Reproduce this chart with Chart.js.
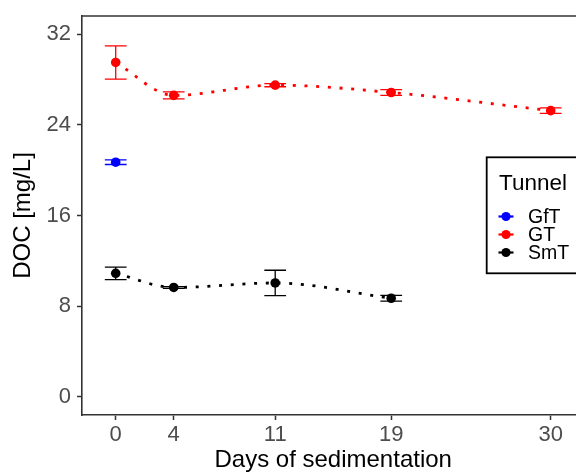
<!DOCTYPE html>
<html>
<head>
<meta charset="utf-8">
<script src="https://cdn.jsdelivr.net/npm/chart.js@4/dist/chart.umd.min.js"></script>
<style>
html,body{margin:0;padding:0;background:#fff;overflow:hidden;}
#wrap{width:610px;height:475px;}
</style>
</head>
<body>
<div id="wrap"><canvas id="c" width="610" height="475"></canvas></div>
<script>
// ---- data ----
const seriesNames = ['GfT', 'GT', 'SmT'];
const seriesColors = ['#0000FF', '#FF0000', '#000000'];
const gftDays = [0];
const gftDOC = [20.7];
const gftErr = [0.2];
const gtDays = [0, 4, 11, 19, 30];
const gtDOC = [29.5, 26.6, 27.5, 26.85, 25.25];
const gtErr = [1.47, 0.31, 0.14, 0.25, 0.24];
const smtDays = [0, 4, 11, 19];
const smtDOC = [10.9, 9.65, 10.05, 8.7];
const smtErr = [0.55, 0.08, 1.12, 0.26];
const xTicks = [0, 4, 11, 19, 30];
const yTicks = [0, 8, 16, 24, 32];

const FONT = "'Liberation Sans', Arial, Helvetica, sans-serif";

function mk(days, vals) { return days.map((d, i) => ({x: d, y: vals[i]})); }
const errs = [gftErr, gtErr, smtErr];

function ds(i, days, vals, showLine) {
  return {
    label: seriesNames[i],
    data: mk(days, vals),
    errors: errs[i],
    borderColor: seriesColors[i],
    backgroundColor: seriesColors[i],
    pointBackgroundColor: seriesColors[i],
    pointBorderWidth: 0,
    pointRadius: 4.8,
    pointHoverRadius: 4.8,
    showLine: showLine,
    borderWidth: 2.8,
    borderDash: [3, 8.7],
    borderCapStyle: 'butt',
    cubicInterpolationMode: 'monotone',
    fill: false
  };
}

const errorBars = {
  id: 'errorBars',
  beforeDatasetsDraw(chart) {
    const ctx = chart.ctx, xs = chart.scales.x, ys = chart.scales.y;
    chart.data.datasets.forEach(d => {
      ctx.save();
      ctx.strokeStyle = d.borderColor;
      ctx.lineWidth = 1.3;
      d.data.forEach((p, i) => {
        const e = d.errors[i];
        const x = xs.getPixelForValue(p.x);
        const x0 = xs.getPixelForValue(p.x - 0.75), x1 = xs.getPixelForValue(p.x + 0.75);
        const yt = ys.getPixelForValue(p.y + e), yb = ys.getPixelForValue(p.y - e);
        ctx.beginPath();
        ctx.moveTo(x, yt); ctx.lineTo(x, yb);
        ctx.moveTo(x0, yt); ctx.lineTo(x1, yt);
        ctx.moveTo(x0, yb); ctx.lineTo(x1, yb);
        ctx.stroke();
      });
      ctx.restore();
    });
  }
};

const frame = {
  id: 'frame',
  afterDraw(chart) {
    const ctx = chart.ctx, a = chart.chartArea;
    ctx.save();
    ctx.strokeStyle = '#333333';
    ctx.lineWidth = 1.6;
    ctx.beginPath();
    ctx.moveTo(a.left, a.top); ctx.lineTo(a.right, a.top); ctx.lineTo(a.right, a.bottom);
    ctx.stroke();
    // legend
    const lx = 486.7, ly = 157.3, lw = 110, lh = 116;
    ctx.fillStyle = '#fff';
    ctx.fillRect(lx, ly, lw, lh);
    ctx.strokeStyle = '#000';
    ctx.lineWidth = 1.8;
    ctx.strokeRect(lx, ly, lw, lh);
    ctx.fillStyle = '#000';
    ctx.textAlign = 'left';
    ctx.textBaseline = 'alphabetic';
    ctx.font = '22.5px ' + FONT;
    ctx.fillText('Tunnel', 499, 189.5);
    ctx.font = '19.5px ' + FONT;
    const ys = [216.5, 234.5, 252.5];
    seriesNames.forEach((n, i) => {
      ctx.strokeStyle = seriesColors[i];
      ctx.fillStyle = seriesColors[i];
      ctx.lineWidth = 2.2;
      ctx.beginPath(); ctx.moveTo(498.5, ys[i]); ctx.lineTo(513.5, ys[i]); ctx.stroke();
      ctx.beginPath(); ctx.arc(506, ys[i], 4.6, 0, Math.PI * 2); ctx.fill();
      ctx.fillStyle = '#000';
      ctx.textBaseline = 'middle';
      ctx.fillText(n, 528, ys[i] + 1);
    });
    ctx.restore();
  }
};

new Chart(document.getElementById('c'), {
  type: 'scatter',
  data: {
    datasets: [
      ds(0, gftDays, gftDOC, false),
      ds(1, gtDays, gtDOC, true),
      ds(2, smtDays, smtDOC, true)
    ]
  },
  options: {
    responsive: false,
    animation: false,
    events: [],
    layout: {padding: {left: 0, right: 25.6, top: 16, bottom: 0}},
    plugins: {legend: {display: false}, tooltip: {enabled: false}},
    scales: {
      x: {
        type: 'linear',
        min: -2.325, max: 32.325,
        afterBuildTicks: s => { s.ticks = xTicks.map(v => ({value: v})); },
        afterFit: s => { s.height = 60; s.paddingLeft = 0; s.paddingRight = 0; },
        ticks: {font: {family: FONT, size: 22}, color: '#4D4D4D', padding: 2, maxRotation: 0, autoSkip: false,
                callback: v => String(v)},
        grid: {drawOnChartArea: false, drawTicks: true, tickLength: 5, tickColor: '#333333', tickWidth: 1.5},
        border: {display: true, color: '#333333', width: 1.6},
        title: {display: true, text: 'Days of sedimentation', color: '#000', font: {family: FONT, size: 24}, padding: {top: 0, bottom: 0}}
      },
      y: {
        type: 'linear',
        min: -1.6, max: 33.6,
        afterBuildTicks: s => { s.ticks = yTicks.map(v => ({value: v})); },
        afterFit: s => { s.width = 82; s.paddingTop = 0; s.paddingBottom = 0; },
        ticks: {font: {family: FONT, size: 22}, color: '#4D4D4D', padding: 6, autoSkip: false,
                callback: v => String(v)},
        grid: {drawOnChartArea: false, drawTicks: true, tickLength: 5, tickColor: '#333333', tickWidth: 1.5},
        border: {display: true, color: '#333333', width: 1.6},
        title: {display: true, text: 'DOC [mg/L]', color: '#000', font: {family: FONT, size: 24}, padding: {top: 9, bottom: 0}}
      }
    }
  },
  plugins: [errorBars, frame]
});
</script>
</body>
</html>
